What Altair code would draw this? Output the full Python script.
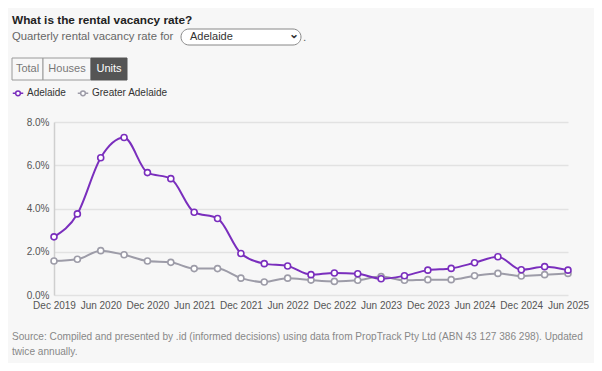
import altair as alt
import pandas as pd

quarters = ["Dec 2019", "Mar 2020", "Jun 2020", "Sep 2020", "Dec 2020", "Mar 2021",
            "Jun 2021", "Sep 2021", "Dec 2021", "Mar 2022", "Jun 2022", "Sep 2022",
            "Dec 2022", "Mar 2023", "Jun 2023", "Sep 2023", "Dec 2023", "Mar 2024",
            "Jun 2024", "Sep 2024", "Dec 2024", "Mar 2025", "Jun 2025"]
adelaide = [2.69, 3.75, 6.35, 7.28, 5.66, 5.38, 3.83, 3.54, 1.92, 1.45, 1.34, 0.94,
            1.02, 0.98, 0.75, 0.89, 1.15, 1.23, 1.49, 1.77, 1.17, 1.31, 1.15]
greater = [1.57, 1.65, 2.05, 1.86, 1.57, 1.51, 1.22, 1.22, 0.78, 0.60, 0.78, 0.69,
           0.63, 0.68, 0.85, 0.68, 0.71, 0.71, 0.89, 1.00, 0.88, 0.94, 1.00]
series_names = ["Adelaide", "Greater Adelaide"]
series_colors = ["#7a2ebd", "#9d9ca8"]
tick_labels = ["Dec 2019", "Jun 2020", "Dec 2020", "Jun 2021", "Dec 2021", "Jun 2022",
               "Dec 2022", "Jun 2023", "Dec 2023", "Jun 2024", "Dec 2024", "Jun 2025"]
y_ticks = [0, 2, 4, 6, 8]

rows = []
for name, vals in [("Greater Adelaide", greater), ("Adelaide", adelaide)]:
    for i, (q, v) in enumerate(zip(quarters, vals)):
        rows.append({"quarter": q, "value": v, "series": name, "order": 0 if name == "Adelaide" else 1})
df = pd.DataFrame(rows)

FONT = "Liberation Sans"
W, H = 514, 173
PL, PT = 46, 114
PR = 586 - PL - W
PB = 355 - PT - H

color = alt.Color("series:N", scale=alt.Scale(domain=series_names, range=series_colors),
                  legend=alt.Legend(
                      orient="none", legendX=-42, legendY=-35, direction="horizontal",
                      title=None, labelFont=FONT, labelFontSize=10, labelColor="#333",
                      symbolType="M-1,0L-0.45,0M0.45,0L1,0M-0.45,0A0.45,0.45 0 1,0 0.45,0A0.45,0.45 0 1,0 -0.45,0",
                      symbolSize=110, symbolStrokeWidth=1.5, symbolFillColor="white",
                      columnPadding=8, labelOffset=3))

x = alt.X("quarter:O", sort=quarters,
          scale=alt.Scale(type="point", padding=0, domain=quarters),
          axis=alt.Axis(values=tick_labels, labelAngle=0, title=None, ticks=False, domain=False,
                        labelFont=FONT, labelFontSize=10, labelColor="#555", labelPadding=5,
                        grid=False, labelOverlap=False))
y = alt.Y("value:Q", scale=alt.Scale(domain=[0, 8], nice=False),
          axis=alt.Axis(values=y_ticks, title=None, ticks=False, domain=True, domainColor="#cfcfcf",
                        domainWidth=1.5, gridColor="#e2e2e2", gridWidth=1.5,
                        labelExpr="format(datum.value, '.1f') + '%'",
                        labelFont=FONT, labelFontSize=10, labelColor="#555", labelPadding=5))

base = alt.Chart(df)
lines = base.mark_line(interpolate="monotone", strokeWidth=2).encode(
    x=x, y=y, color=color, order=alt.Order("order:Q"))
points = base.mark_point(filled=False, fill="white", fillOpacity=1, size=36, strokeWidth=1.6,
                         opacity=1).encode(x=x, y=y, color=alt.Color("series:N", legend=None,
                         scale=alt.Scale(domain=series_names, range=series_colors)))

one = pd.DataFrame({"k": [0]})

def txt(s, xv, yv, size=11, color_="#333", weight="normal", align="left"):
    return alt.Chart(one).mark_text(text=s, font=FONT, fontSize=size, color=color_,
                                    fontWeight=weight, align=align, baseline="middle").encode(
        x=alt.value(xv), y=alt.value(yv))

def box(x1, x2, y1, y2, fill, stroke, radius=0):
    return alt.Chart(one).mark_rect(fill=fill, stroke=stroke, strokeWidth=1,
                                    cornerRadius=radius).encode(
        x=alt.value(x1), x2=alt.value(x2), y=alt.value(y1), y2=alt.value(y2))

header = [
    txt("What is the rental vacancy rate?", -42, -102, size=11.8, color_="#222", weight="bold"),
    txt("Quarterly rental vacancy rate for", -42, -85, size=11.3, color_="#666"),
    box(127, 247, -93, -77, "white", "#888", radius=8),
    txt("Adelaide", 136, -85, size=11, color_="#333"),
    txt("⌄", 240, -88, size=12, color_="#333", weight="bold", align="center"),
    txt(".", 249, -85, size=11.8, color_="#666"),
    box(-42, -11, -64, -42, "#f7f7f7", "#9a9a9a"),
    box(-11, 37, -64, -42, "#f7f7f7", "#9a9a9a"),
    box(37, 73, -64, -42, "#555555", "#555555"),
    txt("Total", -26.5, -53, size=11, color_="#777", align="center"),
    txt("Houses", 13, -53, size=11, color_="#777", align="center"),
    txt("Units", 55, -53, size=11, color_="white", align="center"),
    txt("Source: Compiled and presented by .id (informed decisions) using data from PropTrack Pty Ltd (ABN 43 127 386 298). Updated",
        -42, 215, size=10.1, color_="#888"),
    txt("twice annually.", -42, 230, size=10.1, color_="#888"),
]

chart = alt.layer(lines, points, *header).properties(
    width=W, height=H, background="#f7f7f7",
    padding={"left": PL, "top": PT, "right": PR, "bottom": PB},
    autosize=alt.AutoSizeParams(type="none"),
).configure_view(stroke=None)

chart.save("out.html", embed_options={"renderer": "svg", "actions": False})
